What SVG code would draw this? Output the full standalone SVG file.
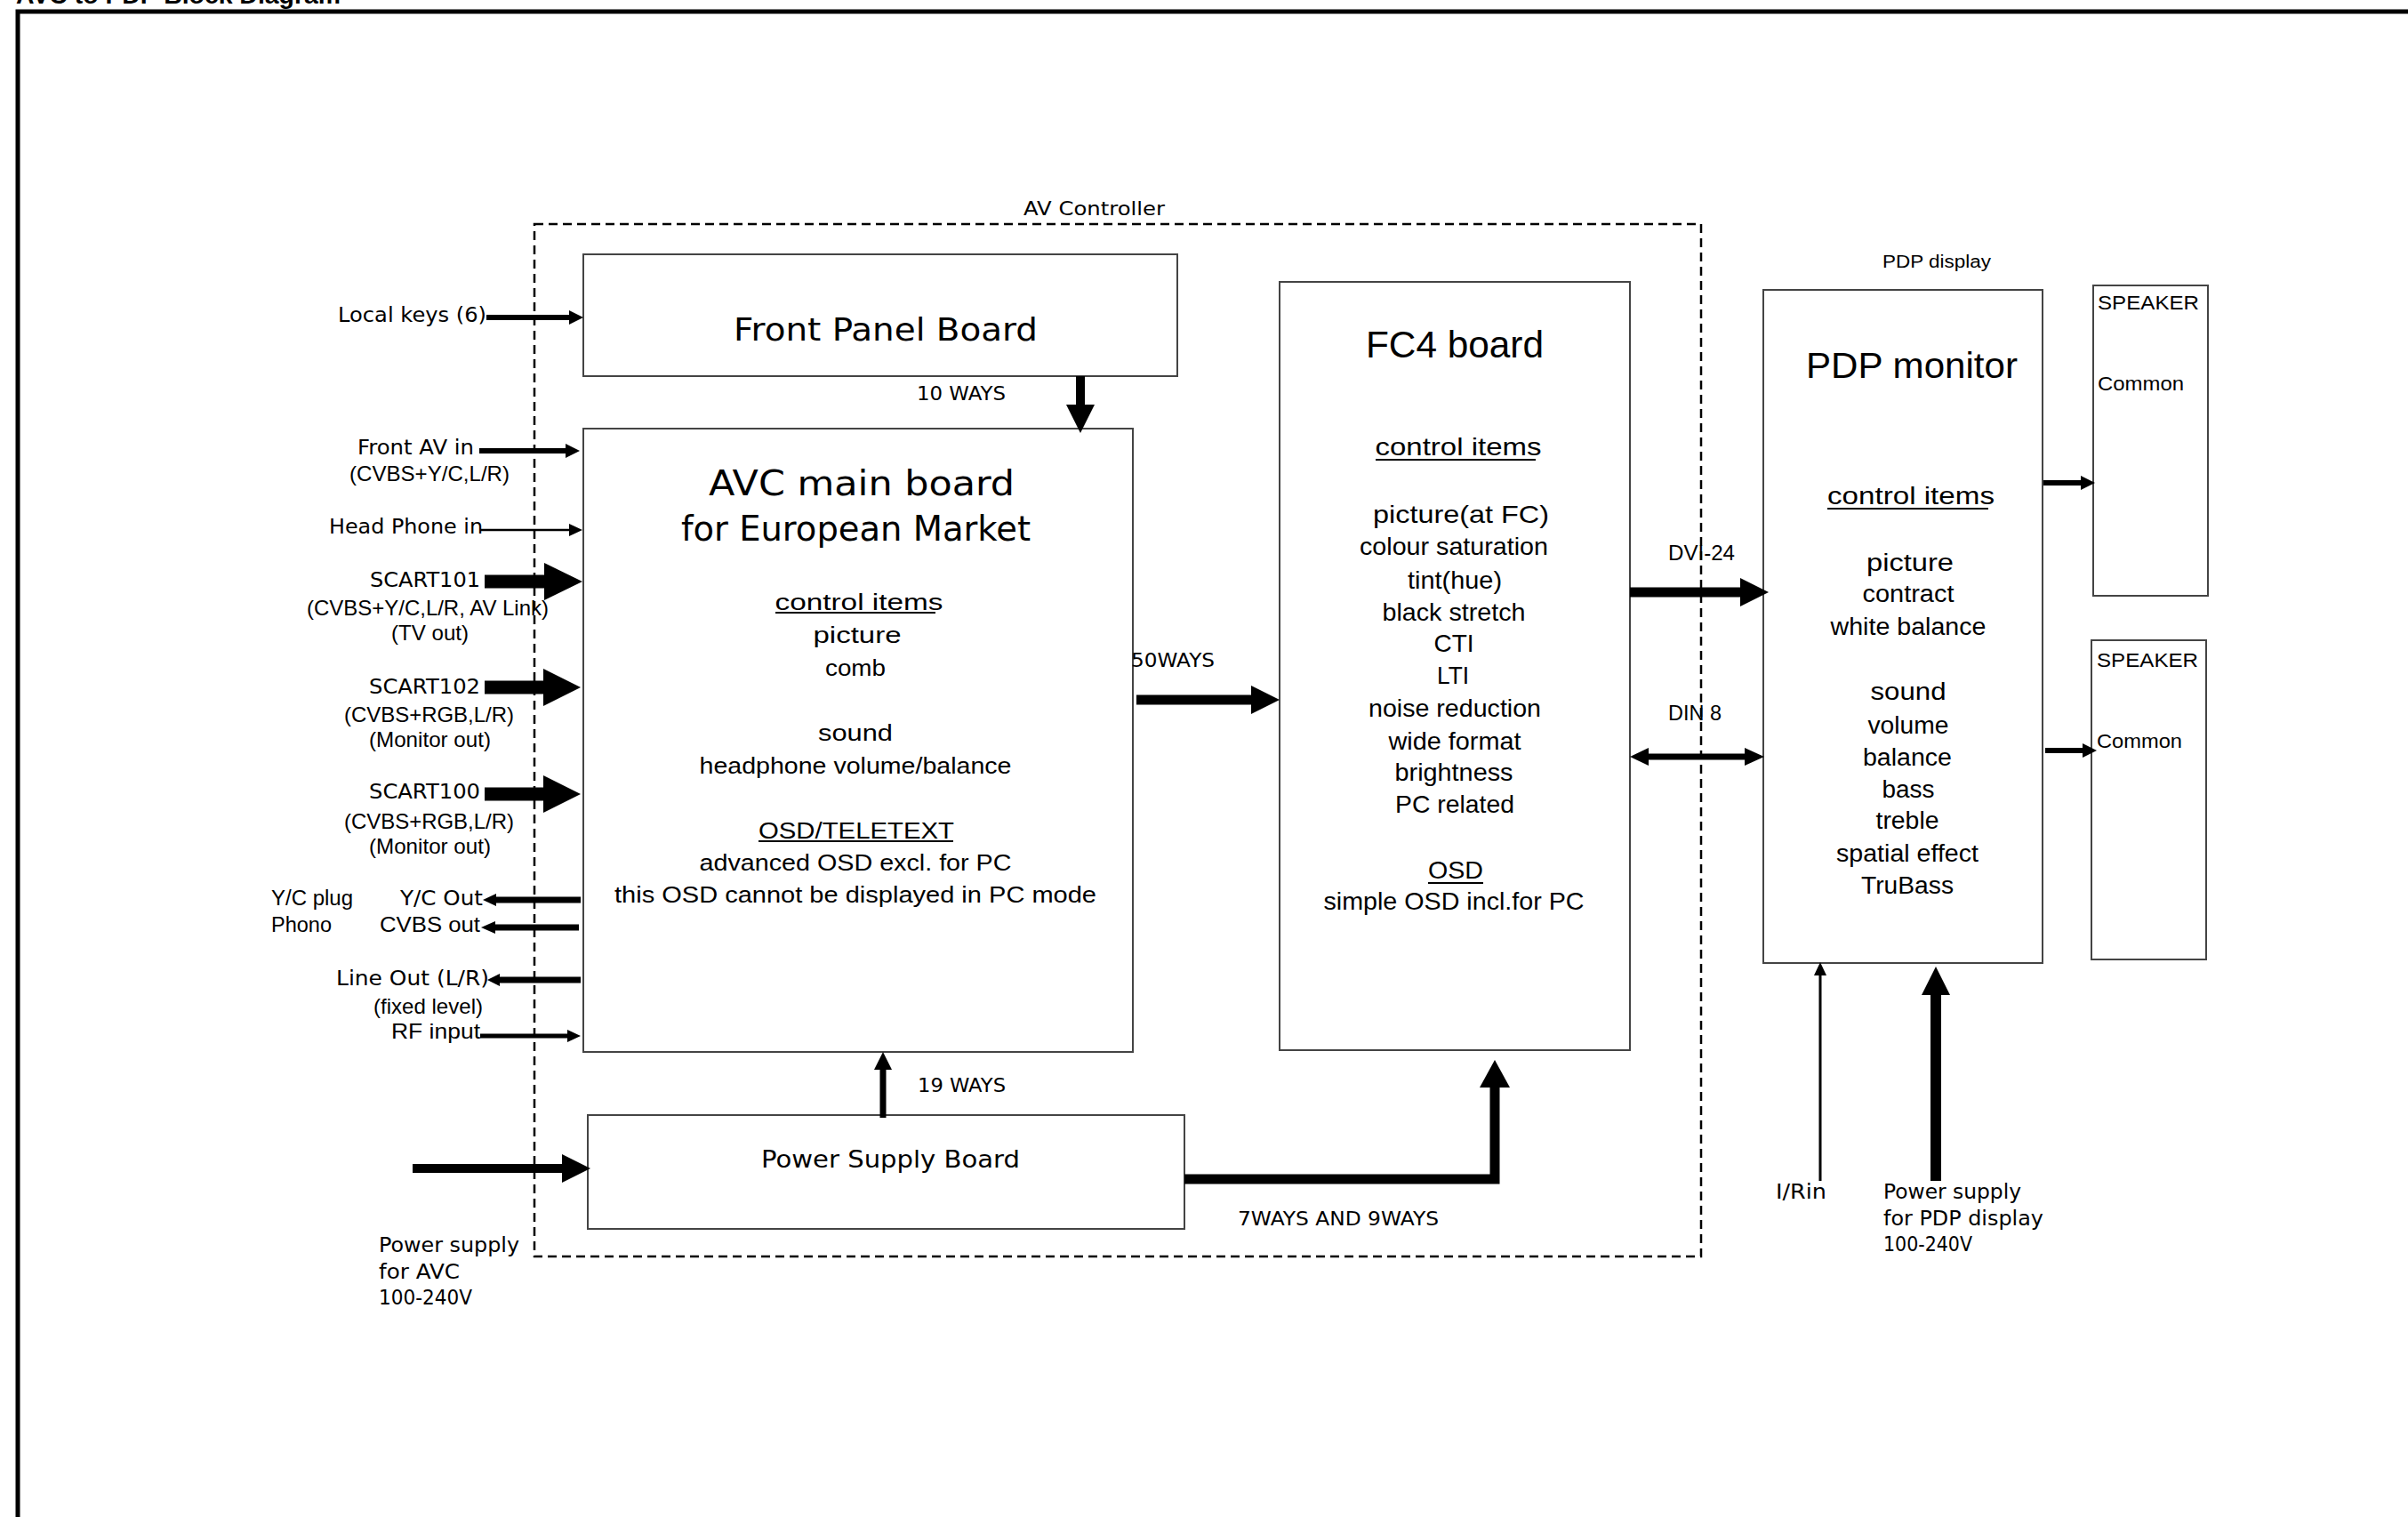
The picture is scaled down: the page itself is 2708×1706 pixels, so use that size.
<svg xmlns="http://www.w3.org/2000/svg" width="2708" height="1706" viewBox="0 0 2708 1706">
<style>
  text { fill: #000; }
  .v { font-family: "DejaVu Sans", Verdana, sans-serif; }
  .a { font-family: "Liberation Sans", Arial, sans-serif; }
  .box { fill: #fff; stroke: #444; stroke-width: 2; }
  .dash { fill: none; stroke: #000; stroke-width: 2.5; stroke-dasharray: 10 6; }
  .shaft { stroke: #000; fill: none; stroke-linecap: butt; }
  .head { fill: #000; stroke: none; }
  .ul { stroke: #000; stroke-width: 2; }
</style>
<rect width="2708" height="1706" fill="#fff"/>

<g id="frame">
  <text class="a" x="18" y="4" font-size="28" font-weight="bold" textLength="365" lengthAdjust="spacingAndGlyphs">AVC to PDP  Block Diagram</text>
  <rect x="20" y="13" width="2800" height="1800" fill="none" stroke="#000" stroke-width="5"/>
</g>

<g id="av-controller">
  <rect class="dash" x="601" y="252" width="1312" height="1161"/>
  <text class="v" x="1151" y="242" font-size="22" textLength="159" lengthAdjust="spacingAndGlyphs">AV Controller</text>
</g>

<g id="front-panel-board">
  <rect class="box" x="656" y="286" width="668" height="137"/>
  <text class="v" x="825" y="383" font-size="35" textLength="342" lengthAdjust="spacingAndGlyphs">Front Panel Board</text>
</g>

<g id="avc-main-board">
  <rect class="box" x="656" y="482" width="618" height="701"/>
  <text class="v" x="797" y="557" font-size="39" textLength="344" lengthAdjust="spacingAndGlyphs">AVC main board</text>
  <text class="v" x="766" y="608" font-size="39" textLength="393" lengthAdjust="spacingAndGlyphs">for European Market</text>
  <g class="a" font-size="26" text-anchor="middle">
    <text x="966" y="686" textLength="189" lengthAdjust="spacingAndGlyphs">control items</text>
    <text x="964" y="723" textLength="99" lengthAdjust="spacingAndGlyphs">picture</text>
    <text x="962" y="760" textLength="68" lengthAdjust="spacingAndGlyphs">comb</text>
    <text x="962" y="833" textLength="84" lengthAdjust="spacingAndGlyphs">sound</text>
    <text x="962" y="870" textLength="351" lengthAdjust="spacingAndGlyphs">headphone volume/balance</text>
    <text x="963" y="943" textLength="220" lengthAdjust="spacingAndGlyphs">OSD/TELETEXT</text>
    <text x="962" y="979" textLength="351" lengthAdjust="spacingAndGlyphs">advanced OSD excl. for PC</text>
    <text x="962" y="1015" textLength="542" lengthAdjust="spacingAndGlyphs">this OSD cannot be displayed in PC mode</text>
  </g>
  <line class="ul" x1="872" y1="689" x2="1052" y2="689"/>
  <line class="ul" x1="853" y1="946" x2="1072" y2="946"/>
</g>

<g id="fc4-board">
  <rect class="box" x="1439" y="317" width="394" height="864"/>
  <text class="a" x="1636" y="402" font-size="42" text-anchor="middle" textLength="200" lengthAdjust="spacingAndGlyphs">FC4 board</text>
  <g class="a" font-size="28" text-anchor="middle">
    <text x="1640" y="512" textLength="187" lengthAdjust="spacingAndGlyphs">control items</text>
    <text x="1643" y="588" textLength="198" lengthAdjust="spacingAndGlyphs">picture(at FC)</text>
    <text x="1635" y="624" textLength="212" lengthAdjust="spacingAndGlyphs">colour saturation</text>
    <text x="1636" y="662" textLength="106" lengthAdjust="spacingAndGlyphs">tint(hue)</text>
    <text x="1635" y="698" textLength="161" lengthAdjust="spacingAndGlyphs">black stretch</text>
    <text x="1635" y="733" textLength="45" lengthAdjust="spacingAndGlyphs">CTI</text>
    <text x="1634" y="769" textLength="36" lengthAdjust="spacingAndGlyphs">LTI</text>
    <text x="1636" y="806" textLength="194" lengthAdjust="spacingAndGlyphs">noise reduction</text>
    <text x="1636" y="843" textLength="149" lengthAdjust="spacingAndGlyphs">wide format</text>
    <text x="1635" y="878" textLength="133" lengthAdjust="spacingAndGlyphs">brightness</text>
    <text x="1636" y="914" textLength="134" lengthAdjust="spacingAndGlyphs">PC related</text>
    <text x="1637" y="988" textLength="62" lengthAdjust="spacingAndGlyphs">OSD</text>
    <text x="1635" y="1023" textLength="293" lengthAdjust="spacingAndGlyphs">simple OSD incl.for PC</text>
  </g>
  <line class="ul" x1="1547" y1="517" x2="1727" y2="517"/>
  <line class="ul" x1="1606" y1="993" x2="1668" y2="993"/>
</g>

<g id="power-supply-board">
  <rect class="box" x="661" y="1254" width="671" height="128"/>
  <text class="v" x="856" y="1313" font-size="27" textLength="291" lengthAdjust="spacingAndGlyphs">Power Supply Board</text>
</g>

<g id="pdp-display">
  <text class="a" x="2117" y="301" font-size="20" textLength="122" lengthAdjust="spacingAndGlyphs">PDP display</text>
</g>

<g id="pdp-monitor">
  <rect class="box" x="1983" y="326" width="314" height="757"/>
  <text class="a" x="2150" y="425" font-size="40" text-anchor="middle" textLength="238" lengthAdjust="spacingAndGlyphs">PDP monitor</text>
  <g class="a" font-size="27" text-anchor="middle">
    <text x="2149" y="567" textLength="188" lengthAdjust="spacingAndGlyphs">control items</text>
    <text x="2148" y="642" textLength="98" lengthAdjust="spacingAndGlyphs">picture</text>
    <text x="2146" y="677" textLength="103" lengthAdjust="spacingAndGlyphs">contract</text>
    <text x="2146" y="714" textLength="175" lengthAdjust="spacingAndGlyphs">white balance</text>
    <text x="2146" y="787" textLength="85" lengthAdjust="spacingAndGlyphs">sound</text>
    <text x="2146" y="825" textLength="91" lengthAdjust="spacingAndGlyphs">volume</text>
    <text x="2145" y="861" textLength="100" lengthAdjust="spacingAndGlyphs">balance</text>
    <text x="2146" y="897" textLength="59" lengthAdjust="spacingAndGlyphs">bass</text>
    <text x="2145" y="932" textLength="71" lengthAdjust="spacingAndGlyphs">treble</text>
    <text x="2145" y="969" textLength="160" lengthAdjust="spacingAndGlyphs">spatial effect</text>
    <text x="2145" y="1005" textLength="104" lengthAdjust="spacingAndGlyphs">TruBass</text>
  </g>
  <line class="ul" x1="2055" y1="572" x2="2236" y2="572"/>
</g>

<g id="speaker-1">
  <rect class="box" x="2354" y="321" width="129" height="349"/>
  <text class="a" x="2359" y="348" font-size="22" textLength="114" lengthAdjust="spacingAndGlyphs">SPEAKER</text>
  <text class="a" x="2359" y="439" font-size="22" textLength="97" lengthAdjust="spacingAndGlyphs">Common</text>
</g>

<g id="speaker-2">
  <rect class="box" x="2352" y="720" width="129" height="359"/>
  <text class="a" x="2358" y="750" font-size="22" textLength="114" lengthAdjust="spacingAndGlyphs">SPEAKER</text>
  <text class="a" x="2358" y="841" font-size="22" textLength="96" lengthAdjust="spacingAndGlyphs">Common</text>
</g>

<g id="connectors">
  <!-- Local keys -->
  <line class="shaft" x1="547" y1="357" x2="643" y2="357" stroke-width="6"/>
  <polygon class="head" points="640,349 656,357 640,365"/>
  <!-- Front AV in -->
  <line class="shaft" x1="539" y1="507" x2="638" y2="507" stroke-width="6"/>
  <polygon class="head" points="636,499 652,507 636,515"/>
  <!-- Head Phone in -->
  <line class="shaft" x1="540" y1="596" x2="643" y2="596" stroke-width="2.5"/>
  <polygon class="head" points="640,589 655,596 640,603"/>
  <!-- SCART101 -->
  <line class="shaft" x1="545" y1="654" x2="614" y2="654" stroke-width="15"/>
  <polygon class="head" points="612,633 655,654 612,675"/>
  <!-- SCART102 -->
  <line class="shaft" x1="545" y1="773" x2="613" y2="773" stroke-width="15"/>
  <polygon class="head" points="611,752 653,773 611,794"/>
  <!-- SCART100 -->
  <line class="shaft" x1="545" y1="893" x2="613" y2="893" stroke-width="15"/>
  <polygon class="head" points="611,872 653,893 611,914"/>
  <!-- Y/C Out -->
  <line class="shaft" x1="653" y1="1012" x2="556" y2="1012" stroke-width="7"/>
  <polygon class="head" points="558,1005 543,1012 558,1019"/>
  <!-- CVBS out -->
  <line class="shaft" x1="651" y1="1043" x2="555" y2="1043" stroke-width="7"/>
  <polygon class="head" points="557,1036 541,1043 557,1050"/>
  <!-- Line Out -->
  <line class="shaft" x1="653" y1="1102" x2="560" y2="1102" stroke-width="7"/>
  <polygon class="head" points="562,1095 548,1102 562,1109"/>
  <!-- RF input -->
  <line class="shaft" x1="540" y1="1165" x2="640" y2="1165" stroke-width="5"/>
  <polygon class="head" points="638,1158 653,1165 638,1172"/>
  <!-- 10 WAYS -->
  <line class="shaft" x1="1215" y1="423" x2="1215" y2="457" stroke-width="10"/>
  <polygon class="head" points="1199,455 1231,455 1215,487"/>
  <!-- 50WAYS -->
  <line class="shaft" x1="1278" y1="787" x2="1409" y2="787" stroke-width="11"/>
  <polygon class="head" points="1407,771 1439,787 1407,803"/>
  <!-- 19 WAYS -->
  <line class="shaft" x1="993" y1="1257" x2="993" y2="1201" stroke-width="7"/>
  <polygon class="head" points="983,1203 1003,1203 993,1183"/>
  <!-- Power supply for AVC -->
  <line class="shaft" x1="464" y1="1314" x2="634" y2="1314" stroke-width="10"/>
  <polygon class="head" points="632,1298 664,1314 632,1330"/>
  <!-- 7WAYS AND 9WAYS -->
  <path class="shaft" d="M1332,1326 H1681 V1221" stroke-width="11"/>
  <polygon class="head" points="1664,1223 1698,1223 1681,1192"/>
  <!-- DVI-24 -->
  <line class="shaft" x1="1833" y1="666" x2="1959" y2="666" stroke-width="11"/>
  <polygon class="head" points="1957,650 1989,666 1957,682"/>
  <!-- DIN 8 -->
  <line class="shaft" x1="1852" y1="851" x2="1964" y2="851" stroke-width="7"/>
  <polygon class="head" points="1854,841 1833,851 1854,861"/>
  <polygon class="head" points="1962,841 1984,851 1962,861"/>
  <!-- PDP to speakers -->
  <line class="shaft" x1="2298" y1="543" x2="2342" y2="543" stroke-width="6"/>
  <polygon class="head" points="2340,535 2356,543 2340,551"/>
  <line class="shaft" x1="2300" y1="844" x2="2344" y2="844" stroke-width="6"/>
  <polygon class="head" points="2342,836 2358,844 2342,852"/>
  <!-- I/Rin -->
  <line class="shaft" x1="2047" y1="1328" x2="2047" y2="1095" stroke-width="3"/>
  <polygon class="head" points="2040,1097 2054,1097 2047,1082"/>
  <!-- Power supply for PDP -->
  <line class="shaft" x1="2177" y1="1328" x2="2177" y2="1117" stroke-width="12"/>
  <polygon class="head" points="2161,1119 2193,1119 2177,1087"/>
</g>

<g id="connector-labels">
  <text class="v" x="1031" y="450" font-size="21" textLength="100" lengthAdjust="spacingAndGlyphs">10 WAYS</text>
  <text class="v" x="1272" y="750" font-size="22" textLength="94" lengthAdjust="spacingAndGlyphs">50WAYS</text>
  <text class="v" x="1032" y="1228" font-size="21" textLength="99" lengthAdjust="spacingAndGlyphs">19 WAYS</text>
  <text class="v" x="1392" y="1378" font-size="22" textLength="226" lengthAdjust="spacingAndGlyphs">7WAYS AND 9WAYS</text>
  <text class="a" x="1876" y="630" font-size="23" textLength="75" lengthAdjust="spacingAndGlyphs">DVI-24</text>
  <text class="a" x="1876" y="810" font-size="23" textLength="60" lengthAdjust="spacingAndGlyphs">DIN 8</text>
</g>

<g id="external-labels">
  <text class="v" x="380" y="362" font-size="23" textLength="167" lengthAdjust="spacingAndGlyphs">Local keys (6)</text>
  <text class="v" x="402" y="511" font-size="23" textLength="131" lengthAdjust="spacingAndGlyphs">Front AV in</text>
  <text class="a" x="393" y="541" font-size="24" textLength="180" lengthAdjust="spacingAndGlyphs">(CVBS+Y/C,L/R)</text>
  <text class="v" x="370" y="600" font-size="23" textLength="173" lengthAdjust="spacingAndGlyphs">Head Phone in</text>
  <text class="v" x="416" y="660" font-size="23" textLength="124" lengthAdjust="spacingAndGlyphs">SCART101</text>
  <text class="a" x="345" y="692" font-size="24" textLength="272" lengthAdjust="spacingAndGlyphs">(CVBS+Y/C,L/R, AV Link)</text>
  <text class="a" x="440" y="720" font-size="24" textLength="87" lengthAdjust="spacingAndGlyphs">(TV out)</text>
  <text class="v" x="415" y="780" font-size="23" textLength="125" lengthAdjust="spacingAndGlyphs">SCART102</text>
  <text class="a" x="387" y="812" font-size="24" textLength="191" lengthAdjust="spacingAndGlyphs">(CVBS+RGB,L/R)</text>
  <text class="a" x="415" y="840" font-size="24" textLength="137" lengthAdjust="spacingAndGlyphs">(Monitor out)</text>
  <text class="v" x="415" y="898" font-size="23" textLength="125" lengthAdjust="spacingAndGlyphs">SCART100</text>
  <text class="a" x="387" y="932" font-size="24" textLength="191" lengthAdjust="spacingAndGlyphs">(CVBS+RGB,L/R)</text>
  <text class="a" x="415" y="960" font-size="24" textLength="137" lengthAdjust="spacingAndGlyphs">(Monitor out)</text>
  <text class="a" x="305" y="1018" font-size="23" textLength="92" lengthAdjust="spacingAndGlyphs">Y/C plug</text>
  <text class="a" x="305" y="1048" font-size="23" textLength="68" lengthAdjust="spacingAndGlyphs">Phono</text>
  <text class="v" x="450" y="1018" font-size="23" textLength="93" lengthAdjust="spacingAndGlyphs">Y/C Out</text>
  <text class="a" x="427" y="1048" font-size="24" textLength="113" lengthAdjust="spacingAndGlyphs">CVBS out</text>
  <text class="v" x="378" y="1108" font-size="23" textLength="172" lengthAdjust="spacingAndGlyphs">Line Out (L/R)</text>
  <text class="a" x="420" y="1140" font-size="24" textLength="123" lengthAdjust="spacingAndGlyphs">(fixed level)</text>
  <text class="a" x="440" y="1168" font-size="24" textLength="100" lengthAdjust="spacingAndGlyphs">RF input</text>
  <text class="v" x="426" y="1408" font-size="23" textLength="158" lengthAdjust="spacingAndGlyphs">Power supply</text>
  <text class="v" x="426" y="1438" font-size="23" textLength="91" lengthAdjust="spacingAndGlyphs">for AVC</text>
  <text class="v" x="426" y="1467" font-size="23" textLength="105" lengthAdjust="spacingAndGlyphs">100-240V</text>
  <text class="v" x="1997" y="1348" font-size="23" textLength="57" lengthAdjust="spacingAndGlyphs">I/Rin</text>
  <text class="v" x="2118" y="1348" font-size="23" textLength="155" lengthAdjust="spacingAndGlyphs">Power supply</text>
  <text class="v" x="2118" y="1378" font-size="23" textLength="180" lengthAdjust="spacingAndGlyphs">for PDP display</text>
  <text class="v" x="2118" y="1407" font-size="23" textLength="100" lengthAdjust="spacingAndGlyphs">100-240V</text>
</g>
</svg>
